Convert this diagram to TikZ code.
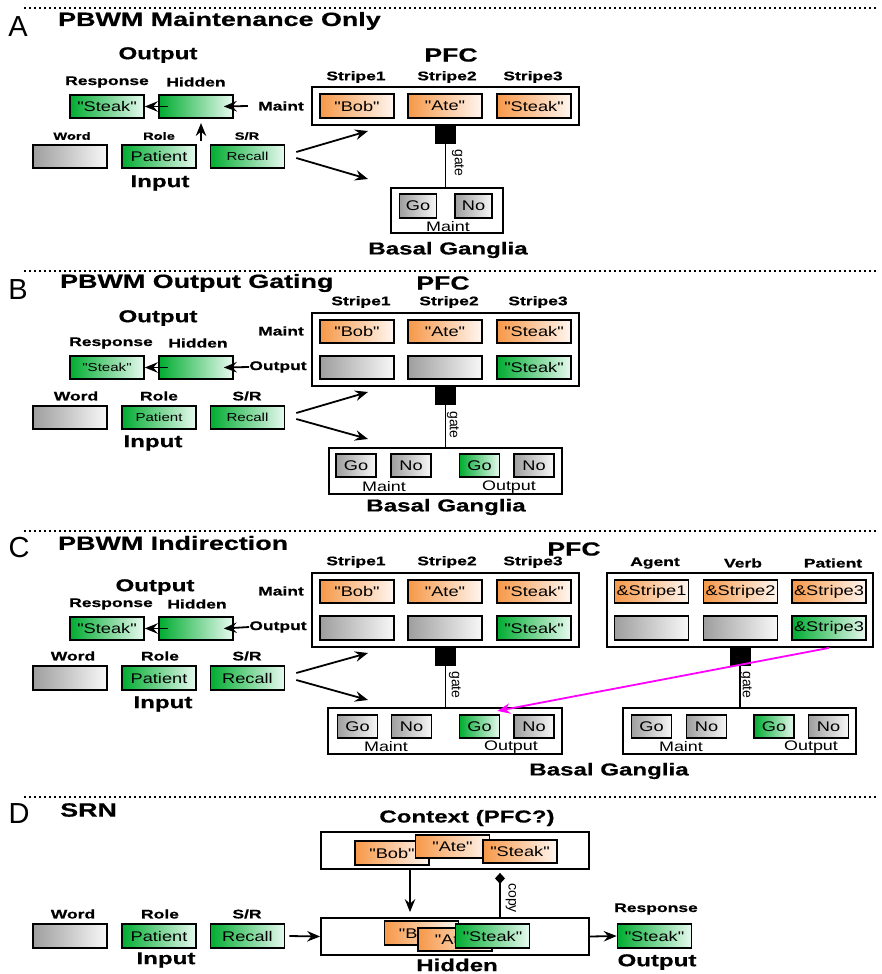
\documentclass[tikz,border=0pt]{standalone}
\usepackage{fontspec}
\setmainfont{Liberation Sans}
\newfontfamily\lblfont[FakeStretch=1.4,FakeBold=0.6]{Liberation Sans}
\newfontfamily\boxfont[FakeStretch=1.3]{Liberation Sans}
\usetikzlibrary{arrows.meta,positioning,calc}

\definecolor{grnL}{RGB}{0,172,48}
\definecolor{grnM}{RGB}{0,218,125}
\definecolor{grnR}{RGB}{232,250,240}
\definecolor{orgL}{RGB}{246,152,72}
\definecolor{orgM}{RGB}{250,196,148}
\definecolor{orgR}{RGB}{255,246,240}
\definecolor{gryL}{RGB}{158,158,158}
\definecolor{gryM}{RGB}{208,208,208}
\definecolor{gryR}{RGB}{248,248,248}
\definecolor{magline}{RGB}{255,0,255}

\begin{document}
\begin{tikzpicture}[x=1pt, y=-1pt,
  unit/.style={draw, line width=1.6pt, minimum width=74pt, minimum height=23.5pt, inner sep=0pt,
    font=\boxfont\fontsize{14}{15}\selectfont},
  grn/.style={unit, left color=grnL, middle color=grnM, right color=grnR},
  org/.style={unit, left color=orgL, middle color=orgM, right color=orgR},
  gry/.style={unit, left color=gryL, middle color=gryM, right color=gryR},
  small/.style={font=\boxfont\fontsize{11.6}{13}\selectfont},
  layer/.style={draw, line width=1.8pt, fill=white, inner sep=0pt},
  lbl/.style={font=\lblfont\bfseries\fontsize{12.5}{14}\selectfont, inner sep=0pt},
  lbls/.style={font=\lblfont\bfseries\fontsize{10.5}{12}\selectfont, inner sep=0pt},
  head/.style={font=\lblfont\bfseries\fontsize{17.2}{19}\selectfont, inner sep=0pt},
  ttl/.style={font=\lblfont\bfseries\fontsize{19.2}{21}\selectfont, anchor=west, inner sep=0pt},
  sect/.style={font=\fontsize{29}{31}\selectfont, inner sep=0pt},
  note/.style={font=\boxfont\fontsize{13.8}{15}\selectfont, inner sep=0pt},
  gatetxt/.style={font=\fontsize{14}{15}\selectfont, rotate=-90, inner sep=0pt},
  gatesq/.style={fill=black, minimum width=21pt, minimum height=18pt, inner sep=0pt},
  wire/.style={line width=1.6pt},
  arr/.style={line width=1.8pt, -{Stealth[length=13pt,width=10.5pt,inset=4.5pt]}},
  sep/.style={line width=1.5pt, dash pattern=on 1.5pt off 3.5pt}]
\useasboundingbox (0,0) rectangle (881,974);

% ---------- A: maintenance only
\draw[sep] (24,8) -- (876,8);
\node[sect] (secA) at (18,27) {A};
\node[ttl] (ttlA) at (58,21) {PBWM Maintenance Only};
\node[head] (outA) at (158,55) {Output};
\node[lbl] (rlA) at (107,82) {Response};
\node[lbl] (hlA) at (196,82) {Hidden};
\node[grn] (respA) at (107,106.5) {"Steak"};
\node[grn] (hidA) at (196,106.5) {};
\draw[arr] ([xshift=10pt]hidA.west) -- (respA.east);
\node[lbl] (mntA) at (281,106) {Maint};
\draw[arr] ([xshift=-10pt]mntA.west) -- ([xshift=-10pt]hidA.east);
\coordinate (upA) at (201,141);
\draw[arr] (upA) -- ($(upA |- hidA.south)+(0,4)$);
\node[lbls] (wlA) at (72,136) {Word};
\node[lbls] (olA) at (159,136) {Role};
\node[lbls] (slA) at (247,136) {S/R};
\node[gry] (wordA) at (70,156.5) {};
\node[grn] (roleA) at (159,156.5) {Patient};
\node[grn, small] (srA) at (247.5,156.5) {Recall};
\node[head] (inA) at (160,183) {Input};
\node[head, font=\lblfont\bfseries\fontsize{19}{21}\selectfont] (pflA) at (451,55) {PFC};
\node[lbl] (st1A) at (356,77) {Stripe1};
\node[lbl] (st2A) at (447,77) {Stripe2};
\node[lbl] (st3A) at (533,77) {Stripe3};
\node[layer, minimum width=267pt, minimum height=38pt] (pfcA) at (445.5,106) {};
\node[org] (s1A) at (357,106) {"Bob"};
\node[org] (s2A) at (445,106) {"Ate"};
\node[org] (s3A) at (534,106) {"Steak"};
\node[gatesq, below=0pt of pfcA] (gA) {};
\node[layer, minimum width=112pt, minimum height=45pt] (bgA) at (447,210.5) {};
\draw[wire] (gA.south) -- (gA.south |- bgA.north);
\node[gatetxt] (gtA) at (458,163) {gate};
\node[gry, minimum width=37pt] (goA) at (418,206) {Go};
\node[gry, minimum width=37pt] (noA) at (473.5,206) {No};
\node[note] (mlA) at (448,227) {Maint};
\node[head] (bglA) at (448,250) {Basal Ganglia};
\coordinate (toPfcA) at (368,131);
\coordinate (toBgA) at (368,179);
\draw[arr] ([shift={(11,-4.5)}]srA.east) -- (toPfcA);
\draw[arr] ([shift={(11,1.5)}]srA.east) -- (toBgA);

% ---------- B: output gating
\draw[sep] (24,271) -- (876,271);
\node[sect] (secB) at (18,290) {B};
\node[ttl] (ttlB) at (60,283) {PBWM Output Gating};
\node[head] (outB) at (158,318) {Output};
\node[lbl] (rlB) at (111,343) {Response};
\node[lbl] (hlB) at (198,343) {Hidden};
\node[grn, small] (respB) at (107,367.5) {"Steak"};
\node[grn] (hidB) at (196,367.5) {};
\draw[arr] ([xshift=10pt]hidB.west) -- (respB.east);
\node[lbl] (mntB) at (281,331) {Maint};
\node[lbl] (oplB) at (278,367) {Output};
\draw[arr] (oplB.west) -- ([xshift=-10pt]hidB.east);
\node[lbl] (wlB) at (76,396) {Word};
\node[lbl] (olB) at (159,396) {Role};
\node[lbl] (slB) at (247,396) {S/R};
\node[gry] (wordB) at (70,417.5) {};
\node[grn, small] (roleB) at (159,417.5) {Patient};
\node[grn, small] (srB) at (247.5,417.5) {Recall};
\node[head] (inB) at (153,443) {Input};
\node[head, font=\lblfont\bfseries\fontsize{19}{21}\selectfont] (pflB) at (443,283) {PFC};
\node[lbl] (st1B) at (361,302) {Stripe1};
\node[lbl] (st2B) at (449,302) {Stripe2};
\node[lbl] (st3B) at (538,302) {Stripe3};
\node[layer, minimum width=267pt, minimum height=73pt] (pfcB) at (445.5,349.5) {};
\node[org] (s1B) at (357,331.5) {"Bob"};
\node[org] (s2B) at (445,331.5) {"Ate"};
\node[org] (s3B) at (534,331.5) {"Steak"};
\node[gry] (o1B) at (357,367.5) {};
\node[gry] (o2B) at (445,367.5) {};
\node[grn] (o3B) at (534,367.5) {"Steak"};
\node[gatesq, below=0pt of pfcB] (gB) {};
\node[layer, minimum width=233pt, minimum height=46pt] (bgB) at (445.5,471) {};
\draw[wire] (gB.south) -- (gB.south |- bgB.north);
\node[gatetxt] (gtB) at (453,425) {gate};
\node[gry, minimum width=40pt] (goMB) at (356,465.5) {Go};
\node[gry, minimum width=40pt] (noMB) at (411,465.5) {No};
\node[grn, minimum width=40pt] (goOB) at (479.5,465.5) {Go};
\node[gry, minimum width=40pt] (noOB) at (534,465.5) {No};
\node[note] (mlB) at (384,487) {Maint};
\node[note] (olbB) at (509,487) {Output};
\node[head] (bglB) at (446,507) {Basal Ganglia};
\coordinate (toPfcB) at (368,392);
\coordinate (toBgB) at (368,439);
\draw[arr] ([shift={(11,-4.5)}]srB.east) -- (toPfcB);
\draw[arr] ([shift={(11,1.5)}]srB.east) -- (toBgB);

% ---------- C: indirection
\draw[sep] (24,531) -- (876,531);
\node[sect] (secC) at (19,548) {C};
\node[ttl] (ttlC) at (58,543) {PBWM Indirection};
\node[head] (outC) at (155,587) {Output};
\node[lbl] (rlC) at (111,604) {Response};
\node[lbl] (hlC) at (197,604) {Hidden};
\node[grn] (respC) at (107,628.5) {"Steak"};
\node[grn] (hidC) at (196,628.5) {};
\draw[arr] ([xshift=10pt]hidC.west) -- (respC.east);
\node[lbl] (mntC) at (281,591) {Maint};
\node[lbl] (oplC) at (278,627) {Output};
\draw[arr] (oplC.west) -- ([xshift=-10pt]hidC.east);
\node[lbl] (wlC) at (73,656) {Word};
\node[lbl] (olC) at (160,656) {Role};
\node[lbl] (slC) at (247,656) {S/R};
\node[gry] (wordC) at (70,678) {};
\node[grn] (roleC) at (159,678) {Patient};
\node[grn] (srC) at (247.5,678) {Recall};
\node[head] (inC) at (163,704) {Input};
\node[head, font=\lblfont\bfseries\fontsize{19}{21}\selectfont] (pflC) at (574,549) {PFC};
\node[lbl] (st1C) at (356,562) {Stripe1};
\node[lbl] (st2C) at (447,562) {Stripe2};
\node[lbl] (st3C) at (533,562) {Stripe3};
\node[lbl] (agC) at (655,563) {Agent};
\node[lbl] (vbC) at (743,563) {Verb};
\node[lbl] (ptC) at (833,563) {Patient};
\node[layer, minimum width=267pt, minimum height=74pt] (pfcC) at (445.5,610) {};
\node[org] (s1C) at (357,591.5) {"Bob"};
\node[org] (s2C) at (445,591.5) {"Ate"};
\node[org] (s3C) at (534,591.5) {"Steak"};
\node[gry] (o1C) at (357,628) {};
\node[gry] (o2C) at (445,628) {};
\node[grn] (o3C) at (534,628) {"Steak"};
\node[layer, minimum width=266pt, minimum height=74pt] (pfcR) at (740,610) {};
\node[org] (agMC) at (651.5,591.5) {\&Stripe1};
\node[org] (vbMC) at (740.5,591.5) {\&Stripe2};
\node[org] (ptMC) at (829,591.5) {\&Stripe3};
\node[gry] (agOC) at (651.5,628) {};
\node[gry] (vbOC) at (740.5,628) {};
\node[grn] (ptOC) at (829,628) {\&Stripe3};
\node[gatesq, below=0pt of pfcC] (gC) {};
\node[gatesq, below=0pt of pfcR] (gR) {};
\node[layer, minimum width=234pt, minimum height=46pt] (bgC) at (445,731) {};
\node[layer, minimum width=233pt, minimum height=46pt] (bgR) at (739.5,731) {};
\draw[wire] (gC.south) -- (gC.south |- bgC.north);
\draw[wire] (gR.south) -- (gR.south |- bgR.north);
\node[gatetxt] (gtC) at (455,685) {gate};
\node[gatetxt] (gtR) at (746,685) {gate};
\node[gry, minimum width=40pt] (goMC) at (357.5,726.5) {Go};
\node[gry, minimum width=40pt] (noMC) at (411.5,726.5) {No};
\node[grn, minimum width=40pt] (goOC) at (479.5,726.5) {Go};
\node[gry, minimum width=40pt] (noOC) at (534,726.5) {No};
\node[gry, minimum width=40pt] (goMR) at (651.5,726.5) {Go};
\node[gry, minimum width=40pt] (noMR) at (706.5,726.5) {No};
\node[grn, minimum width=40pt] (goOR) at (774,726.5) {Go};
\node[gry, minimum width=40pt] (noOR) at (828.5,726.5) {No};
\node[note] (mlC) at (386,747) {Maint};
\node[note] (olbC) at (511,747) {Output};
\node[note] (mlR) at (681,747) {Maint};
\node[note] (olbR) at (811,747) {Output};
\node[head] (bglC) at (609,771) {Basal Ganglia};
\coordinate (toPfcC) at (368,653);
\coordinate (toBgC) at (368,700);
\draw[arr] ([shift={(11,-5)}]srC.east) -- (toPfcC);
\draw[arr] ([shift={(11,2)}]srC.east) -- (toBgC);
\draw[arr, magline] (ptOC |- pfcR.south) -- ([shift={(-3,-3)}]goOC.north east);

% ---------- D: SRN
\draw[sep] (24,797) -- (876,797);
\node[sect] (secD) at (19,814) {D};
\node[ttl] (ttlD) at (60,810) {SRN};
\node[lbl] (wlD) at (73,914) {Word};
\node[lbl] (olD) at (160,914) {Role};
\node[lbl] (slD) at (247,914) {S/R};
\node[gry] (wordD) at (70,936) {};
\node[grn] (roleD) at (159,936) {Patient};
\node[grn] (srD) at (247.5,936) {Recall};
\node[head] (inD) at (166,960) {Input};
\node[head] (ctxlD) at (467,818) {Context (PFC?)};
\node[layer, minimum width=268pt, minimum height=37pt] (ctxD) at (455,850.5) {};
\node[org] (bobD) at (392,853) {"Bob"};
\node[org] (ateD) at (452.5,846.5) {"Ate"};
\node[org] (stkD) at (520,851.5) {"Steak"};
\node[layer, minimum width=268pt, minimum height=37pt] (hidD) at (455,936.5) {};
\node[org] (hbD) at (421.5,933) {"Bob"};
\node[org] (haD) at (455,939.5) {"Ate"};
\node[grn] (hsD) at (492.5,936) {"Steak"};
\draw[arr] ([xshift=4pt]srD.east) -- (hidD.west);
\draw[arr] ([xshift=-45pt]ctxD.south) -- ($([xshift=-45pt]hidD.north)+(0,-5)$);
\draw[wire, -{Diamond[length=11pt,width=10pt]}] ([xshift=45pt]hidD.north) -- ($([xshift=45pt]ctxD.south)+(0,3)$);
\node[gatetxt] (cpD) at (511,898) {copy};
\node[lbl] (rlD) at (656,909) {Response};
\node[grn] (respD) at (654.5,936) {"Steak"};
\draw[arr] (hidD.east) -- (respD.west);
\node[head] (outD) at (657,962) {Output};
\node[head] (hlD) at (457,965) {Hidden};
\end{tikzpicture}
\end{document}
